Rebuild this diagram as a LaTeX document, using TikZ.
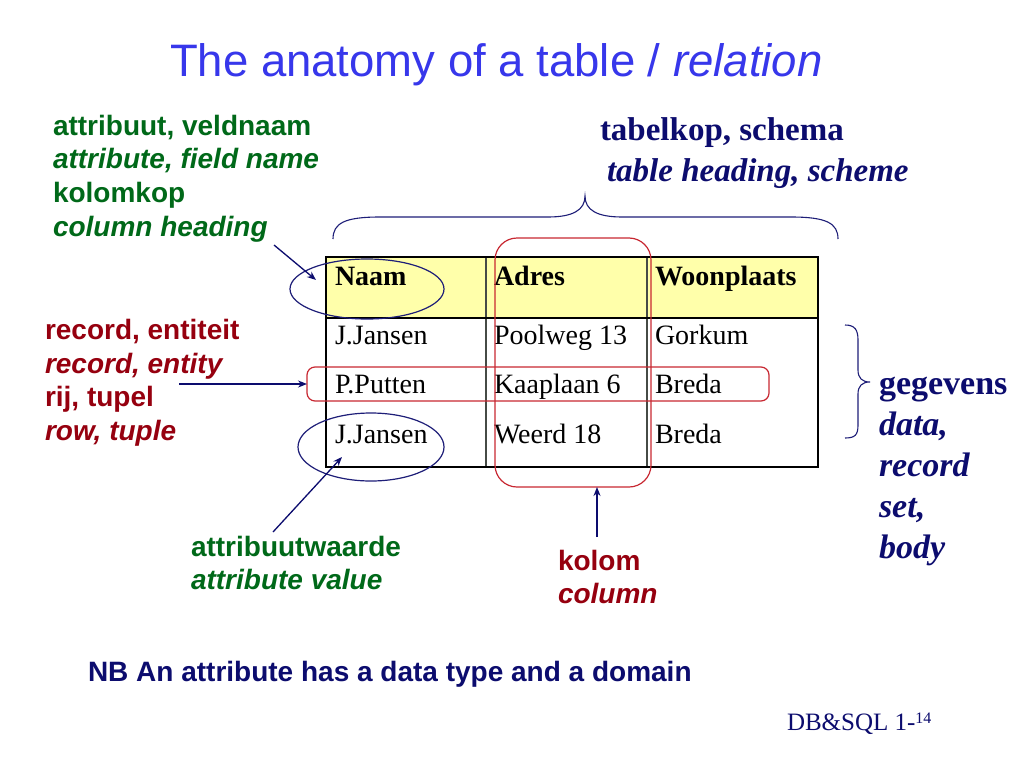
\documentclass[tikz,border=0pt]{standalone}
\usepackage{fontspec}
\setmainfont{Liberation Serif}
\setsansfont{Liberation Sans}
\usetikzlibrary{arrows.meta,shapes.geometric}
\definecolor{titleblue}{RGB}{55,55,235}
\definecolor{navy}{RGB}{12,12,110}
\definecolor{lblgreen}{RGB}{0,105,25}
\definecolor{lblred}{RGB}{150,0,15}
\definecolor{boxred}{RGB}{200,40,50}
\definecolor{ringblue}{RGB}{30,30,120}
\definecolor{headfill}{RGB}{255,255,170}
\definecolor{gridgray}{RGB}{70,75,70}
\begin{document}
\begin{tikzpicture}[x=1pt,y=-1pt,
  lbl/.style={anchor=base west, inner sep=0pt, outer sep=0pt},
  sansb/.style={lbl, font=\sffamily\bfseries\fontsize{28}{33}\selectfont},
  sansbi/.style={lbl, font=\sffamily\bfseries\itshape\fontsize{28}{33}\selectfont},
  grn/.style={text=lblgreen},
  rd/.style={text=lblred},
  cellhead/.style={lbl, font=\rmfamily\bfseries\fontsize{28}{33}\selectfont},
  cell/.style={lbl, font=\rmfamily\fontsize{28}{33}\selectfont},
  serifb/.style={lbl, text=navy, font=\rmfamily\bfseries\fontsize{33}{40}\selectfont},
  serifbi/.style={lbl, text=navy, font=\rmfamily\bfseries\itshape\fontsize{33}{40}\selectfont},
  sidebi/.style={lbl, text=navy, font=\rmfamily\bfseries\itshape\fontsize{34}{41}\selectfont},
  arr/.style={draw=navy, line width=1.3pt, -{Stealth[length=9pt,width=7pt]}},
  ring/.style={ellipse, draw=ringblue, line width=1.2pt, inner sep=0pt},
  redbox/.style={draw=boxred, line width=1.2pt, inner sep=0pt},
  brace/.style={draw=ringblue, line width=1.1pt}
]
\useasboundingbox[fill=white] (0,0) rectangle (1024,768);

% title
\node[lbl, text=titleblue, font=\sffamily\fontsize{45.5}{50}\selectfont] (title) at (170,76) {The anatomy of a table / \textit{relation}};

% table heading label
\node[serifb] (tk1) at (600,140) {tabelkop, schema};
\node[serifbi] (tk2) at (607,181) {table heading, scheme};

% top brace
\draw[brace] (333,239) .. controls (333,223) and (345,217) .. (380,217) -- (548,217)
  .. controls (573,217) and (585,210) .. (585,196)
  .. controls (585,210) and (597,217) .. (622,217) -- (791,217)
  .. controls (826,217) and (838,223) .. (838,239);

% table
\fill[headfill] (326,257) rectangle (818,318);
\draw[gridgray, line width=1.4pt] (486,257) -- (486,467);
\draw[gridgray, line width=1.4pt] (647,257) -- (647,467);
\draw[black, line width=1.6pt] (326,318) -- (818,318);
\draw[black, line width=2pt] (326,257) rectangle (818,467);

\node[cellhead] (h1) at (335,285) {Naam};
\node[cellhead] (h2) at (494,285) {Adres};
\node[cellhead] (h3) at (655,285) {Woonplaats};
\node[cell] (c11) at (335,344) {J.Jansen};
\node[cell] (c12) at (494,344) {Poolweg 13};
\node[cell] (c13) at (655,344) {Gorkum};
\node[cell] (c21) at (335,393) {P.Putten};
\node[cell] (c22) at (494,393) {Kaaplaan 6};
\node[cell] (c23) at (655,393) {Breda};
\node[cell] (c31) at (335,443) {J.Jansen};
\node[cell] (c32) at (494,443) {Weerd 18};
\node[cell] (c33) at (655,443) {Breda};

% highlight shapes
\node[redbox, rounded corners=22pt, minimum width=156pt, minimum height=249pt] (colbox) at (573,362.5) {};
\node[redbox, rounded corners=8pt, minimum width=462pt, minimum height=34pt] (rowbox) at (538,384) {};
\node[ring, minimum width=154pt, minimum height=60pt] (ring1) at (367,289) {};
\node[ring, minimum width=146pt, minimum height=68pt] (ring2) at (371,447) {};

% right brace
\draw[brace] (845,325) .. controls (855,325) and (858,330) .. (858,340) -- (858,370)
  .. controls (858,378) and (862,382) .. (870,382)
  .. controls (862,382) and (858,386) .. (858,394) -- (858,425)
  .. controls (858,435) and (855,438) .. (845,438);

\node[lbl, text=navy, font=\rmfamily\bfseries\fontsize{34}{41}\selectfont] (gg) at (879,394) {gegevens};
\node[sidebi] (s1) at (879,435) {data,};
\node[sidebi] (s2) at (879,476) {record};
\node[sidebi] (s3) at (879,517) {set,};
\node[sidebi] (s4) at (879,558) {body};

% left green labels
\node[sansb, grn] (g1) at (53,135) {attribuut, veldnaam};
\node[sansbi, grn] (g2) at (53,168.5) {attribute, field name};
\node[sansb, grn] (g3) at (53,202) {kolomkop};
\node[sansbi, grn] (g4) at (53,236) {column heading};

% left red labels
\node[sansb, rd] (r1) at (45,339) {record, entiteit};
\node[sansbi, rd] (r2) at (45,373) {record, entity};
\node[sansb, rd] (r3) at (45,406.5) {rij, tupel};
\node[sansbi, rd] (r4) at (45,440) {row, tuple};

% bottom labels
\node[sansb, grn] (v1) at (191,556) {attribuutwaarde};
\node[sansbi, grn] (v2) at (191,589.5) {attribute value};
\node[sansb, rd] (k1) at (558,570) {kolom};
\node[sansbi, rd] (k2) at (558,603.5) {column};

\node[sansb, text=navy] (nb) at (88,681) {NB An attribute has a data type and a domain};

\node[lbl, text=navy, font=\rmfamily\fontsize{25}{29}\selectfont] (foot) at (787,730) {DB\&SQL 1-\raisebox{7pt}{\fontsize{16}{18}\selectfont 14}};

% arrows
\coordinate (a1s) at (274,245);
\coordinate (a1e) at (316,280);
\coordinate (a2s) at (179,384);
\coordinate (a2e) at (307,384);
\coordinate (a3s) at (273,532);
\coordinate (a3e) at (342,457);
\coordinate (a4s) at (597,537);
\coordinate (a4e) at (597,487);
\draw[arr] (a1s) -- (a1e);
\draw[arr] (a2s) -- (a2e);
\draw[arr] (a3s) -- (a3e);
\draw[arr] (a4s) -- (a4e);
\end{tikzpicture}
\end{document}
